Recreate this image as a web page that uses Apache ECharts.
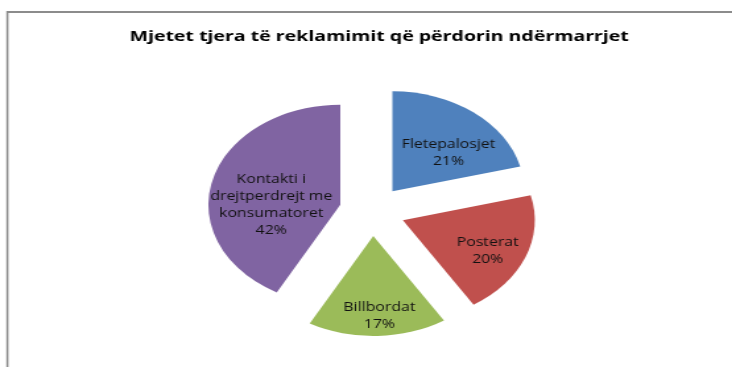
<!DOCTYPE html>
<html>
<head>
<meta charset="utf-8">
<script src="https://cdn.jsdelivr.net/npm/echarts@6/dist/echarts.min.js"></script>
<style>
  html, body { margin: 0; padding: 0; background: #ffffff; overflow: hidden; }
  /* The chart is drawn on a narrower canvas and stretched horizontally,
     which turns the round pie into the wide ellipse of the printed figure. */
  #wrap { width: 732px; height: 367px; overflow: hidden; }
  #chart { width: 555px; height: 367px; transform: scaleX(1.319); transform-origin: 0 0; }
</style>
</head>
<body>
<div id="wrap"><div id="chart"></div></div>
<script>
// Shares of the other advertising channels used by the companies (%)
const titleText = 'Mjetet tjera të reklamimit që përdorin ndërmarrjet';
const categories = ['Fletepalosjet', 'Posterat', 'Billbordat', 'Kontakti i\ndrejtperdrejt me\nkonsumatoret'];
const shares = [21, 20, 17, 42];
const colors = ['#4F81BD', '#C0504D', '#9BBB59', '#8064A2'];

// label nudges (dx, dy) so every label sits where the figure places it
const labelShift = [[10, 4], [15, 11], [3, 27], [-1, 13]];

const FONT = '"Open Sans", "Noto Sans", sans-serif';

const chart = echarts.init(document.getElementById('chart'), null, { renderer: 'canvas' });

chart.setOption({
  animation: false,
  backgroundColor: '#ffffff',
  title: {
    text: titleText,
    left: 282.5,
    top: 24,
    textAlign: 'center',
    textStyle: { fontFamily: FONT, fontSize: 14.8, fontWeight: 'bold', color: '#000000' }
  },
  graphic: [
    { type: 'line', shape: { x1: 5.6, y1: 12, x2: 600, y2: 12 }, style: { stroke: '#8c8c8c', lineWidth: 2 } },
    { type: 'line', shape: { x1: 5.6, y1: 11, x2: 5.6, y2: 400 }, style: { stroke: '#8c8c8c', lineWidth: 1.6 } }
  ],
  series: [{
    type: 'pie',
    center: [282.2, 211],
    radius: 100,
    startAngle: 90,
    clockwise: true,
    selectedMode: 'multiple',
    selectedOffset: 25,
    avoidLabelOverlap: false,
    emphasis: { disabled: true },
    itemStyle: { borderWidth: 0 },
    label: {
      show: true,
      position: 'inside',
      fontFamily: FONT,
      fontSize: 12,
      lineHeight: 17,
      color: '#111111',
      formatter: p => p.name + '\n' + Math.round(p.percent) + '%'
    },
    labelLine: { show: false },
    labelLayout: p => ({ dx: labelShift[p.dataIndex][0], dy: labelShift[p.dataIndex][1] }),
    data: categories.map((name, i) => ({
      name: name,
      value: shares[i],
      selected: true,
      itemStyle: { color: colors[i] },
      select: { itemStyle: { color: colors[i] } }
    }))
  }]
});
</script>
</body>
</html>
